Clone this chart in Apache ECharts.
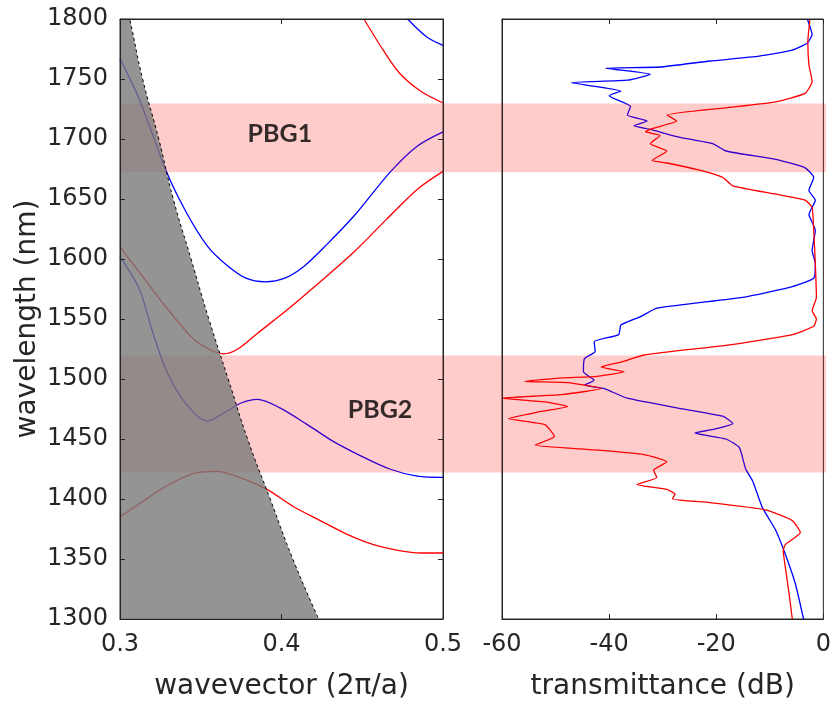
<!DOCTYPE html>
<html>
<head>
<meta charset="utf-8">
<script src="https://cdn.jsdelivr.net/npm/echarts@6/dist/echarts.min.js"></script>
<style>
  html, body { margin: 0; padding: 0; background: #fff; }
  #chart { width: 834px; height: 706px; }
</style>
</head>
<body>
<div id="chart"></div>
<script>
// Left panel: band diagram, [wavevector (2pi/a), wavelength (nm)]
const lightLine = [[0.300, 1833], [0.306, 1800], [0.314, 1750], [0.324, 1700], [0.333, 1650], [0.344, 1600],
    [0.355, 1550], [0.367, 1500], [0.379, 1450], [0.393, 1400], [0.407, 1350], [0.423, 1300]];
const blueBand1 = [[0.300, 1767], [0.312, 1733], [0.329, 1672], [0.341, 1639], [0.354, 1611], [0.366, 1595],
    [0.378, 1584], [0.390, 1581], [0.402, 1584], [0.414, 1594], [0.428, 1612], [0.445, 1636], [0.467, 1672],
    [0.484, 1694], [0.500, 1706]];
const redTop = [[0.451, 1800], [0.463, 1774], [0.473, 1755], [0.486, 1740], [0.500, 1730]];
const blueTop = [[0.478, 1800], [0.490, 1785], [0.500, 1778]];
const redBand2 = [[0.300, 1610], [0.312, 1589], [0.329, 1559], [0.345, 1534], [0.355, 1525], [0.364, 1521],
    [0.373, 1525], [0.385, 1538], [0.403, 1557], [0.424, 1581], [0.445, 1606], [0.465, 1633], [0.484, 1658], [0.500, 1673]];
const blueBand2 = [[0.300, 1602], [0.312, 1575], [0.320, 1540], [0.329, 1506], [0.341, 1479], [0.354, 1465],
    [0.366, 1473], [0.375, 1480], [0.385, 1483], [0.399, 1476], [0.416, 1462], [0.432, 1448], [0.449, 1436],
    [0.467, 1425], [0.484, 1419], [0.500, 1418]];
const redBand3 = [[0.300, 1385], [0.312, 1396], [0.329, 1411], [0.345, 1421], [0.360, 1423], [0.374, 1418],
    [0.391, 1408], [0.407, 1394], [0.424, 1382], [0.440, 1371], [0.457, 1362], [0.473, 1357], [0.486, 1355], [0.500, 1355]];

// Right panel: transmittance, [dB, wavelength (nm)]
const blueTrans = [[-3.0, 1800], [-2.1, 1787], [-3.0, 1780], [-5.8, 1774], [-12.0, 1769], [-21.2, 1765], [-30.5, 1760],
    [-40.6, 1759], [-32.3, 1754], [-36.6, 1749], [-47.1, 1747], [-37.8, 1740], [-40.0, 1736], [-36.0, 1727],
    [-36.6, 1720], [-32.9, 1715], [-35.4, 1711], [-32.3, 1708], [-27.4, 1702], [-20.6, 1696], [-18.2, 1690],
    [-8.9, 1683], [-3.4, 1676], [-1.8, 1668], [-2.7, 1657], [-1.5, 1649], [-2.7, 1637], [-1.5, 1624], [-2.1, 1607],
    [-1.5, 1596], [-1.8, 1584], [-5.8, 1577], [-15.1, 1568], [-24.3, 1563], [-31.1, 1559], [-34.1, 1552],
    [-37.8, 1545], [-38.2, 1537], [-42.8, 1531], [-42.6, 1523], [-44.6, 1517], [-44.8, 1506], [-42.8, 1499],
    [-44.6, 1495], [-40.9, 1492], [-36.6, 1484], [-27.4, 1476], [-18.8, 1469], [-16.9, 1463], [-20.6, 1458],
    [-24.0, 1455], [-18.2, 1450], [-15.7, 1443], [-14.5, 1425], [-13.2, 1415], [-11.4, 1393], [-8.9, 1374],
    [-7.1, 1354], [-5.2, 1329], [-3.7, 1300]];
const redTrans = [[-2.5, 1800], [-2.9, 1781], [-2.7, 1762], [-2.1, 1748], [-3.4, 1738], [-8.9, 1731], [-18.2, 1726],
    [-29.2, 1720], [-27.4, 1715], [-31.7, 1709], [-33.2, 1706], [-30.5, 1703], [-32.3, 1696], [-29.2, 1690],
    [-32.0, 1682], [-29.2, 1680], [-23.1, 1674], [-18.8, 1668], [-16.9, 1661], [-8.9, 1654], [-3.4, 1649],
    [-2.1, 1643], [-1.8, 1624], [-1.5, 1596], [-1.3, 1568], [-2.1, 1557], [-1.3, 1550], [-1.8, 1544], [-5.8, 1537],
    [-18.2, 1528], [-33.5, 1520], [-37.8, 1514], [-41.5, 1510], [-37.2, 1506], [-42.8, 1502], [-48.9, 1501],
    [-55.7, 1498], [-47.7, 1497], [-41.5, 1492], [-48.9, 1487], [-60.0, 1484], [-52.0, 1481], [-47.7, 1477],
    [-53.8, 1472], [-58.8, 1467], [-52.0, 1462], [-50.2, 1452], [-53.8, 1445], [-42.8, 1441], [-33.5, 1437],
    [-29.2, 1431], [-31.7, 1424], [-31.1, 1418], [-34.8, 1412], [-29.2, 1408], [-27.7, 1404], [-28.2, 1400],
    [-21.2, 1397], [-10.8, 1391], [-5.8, 1382], [-4.3, 1372], [-7.1, 1362], [-7.5, 1357], [-7.1, 1343],
    [-6.4, 1321], [-5.8, 1300]];

// Photonic band gaps [from, to] in nm, and their labels placed in band-diagram coords
const bandGaps = [[1673, 1730], [1424, 1521]];
const gapLabels = [['PBG1', 0.399, 1704], ['PBG2', 0.461, 1474]];

const xTicksLeft = [0.3, 0.5, 0.1];   // min, max, interval
const xTicksRight = [-60, 0, 20];
const yTicks = [1300, 1800, 50];

const axisColor = '#262626';
const font = 'DejaVu Sans';

function frameAxis(extra) {
    return Object.assign({
        type: 'value',
        z: 30,
        splitLine: { show: false },
        axisLine: { show: true, onZero: false, lineStyle: { color: axisColor, width: 1 } },
        axisTick: { show: true, inside: true, length: 5, lineStyle: { color: axisColor } },
        axisLabel: { show: false }
    }, extra);
}

const labelStyle = { show: true, color: axisColor, fontFamily: font, fontSize: 24, formatter: v => String(v) };
const nameStyle = { color: axisColor, fontFamily: font, fontSize: 28 };

const chart = echarts.init(document.getElementById('chart'));

function bandLine(data, color) {
    return {
        type: 'line', xAxisIndex: 0, yAxisIndex: 0, data: data, smooth: 0.3,
        symbol: 'none', z: 2, lineStyle: { color: color, width: 1.3 }
    };
}
function transLine(data, color) {
    return {
        type: 'line', xAxisIndex: 2, yAxisIndex: 2, data: data, smooth: 0.15,
        symbol: 'none', z: 2, lineStyle: { color: color, width: 1.3 }
    };
}

var option = {
    animation: false,
    grid: [
        { left: 120, right: 391, top: 19, bottom: 84, show: true, borderColor: axisColor, borderWidth: 1 },
        { left: 502, right: 8, top: 19, bottom: 84, show: true, borderColor: axisColor, borderWidth: 1 },
        { left: 120, right: 8, top: 19, bottom: 84, show: false }
    ],
    xAxis: [
        frameAxis({
            gridIndex: 0, position: 'bottom', min: xTicksLeft[0], max: xTicksLeft[1], interval: xTicksLeft[2],
            axisLabel: Object.assign({ margin: 14 }, labelStyle),
            name: 'wavevector (2π/a)', nameLocation: 'middle', nameGap: 54, nameTextStyle: nameStyle
        }),
        frameAxis({ gridIndex: 0, position: 'top', min: xTicksLeft[0], max: xTicksLeft[1], interval: xTicksLeft[2] }),
        frameAxis({
            gridIndex: 1, position: 'bottom', min: xTicksRight[0], max: xTicksRight[1], interval: xTicksRight[2],
            axisLabel: Object.assign({ margin: 14 }, labelStyle),
            name: 'transmittance (dB)', nameLocation: 'middle', nameGap: 54, nameTextStyle: nameStyle
        }),
        frameAxis({ gridIndex: 1, position: 'top', min: xTicksRight[0], max: xTicksRight[1], interval: xTicksRight[2] }),
        { type: 'value', gridIndex: 2, min: 0, max: 1, show: false }
    ],
    yAxis: [
        frameAxis({
            gridIndex: 0, position: 'left', min: yTicks[0], max: yTicks[1], interval: yTicks[2],
            axisLabel: Object.assign({ margin: 12 }, labelStyle),
            name: 'wavelength (nm)', nameLocation: 'middle', nameGap: 78, nameTextStyle: nameStyle
        }),
        frameAxis({ gridIndex: 0, position: 'right', min: yTicks[0], max: yTicks[1], interval: yTicks[2] }),
        frameAxis({ gridIndex: 1, position: 'left', min: yTicks[0], max: yTicks[1], axisTick: { show: false } }),
        { type: 'value', gridIndex: 2, min: yTicks[0], max: yTicks[1], show: false }
    ],
    series: [
        bandLine(blueBand1, '#0000ff'),
        bandLine(blueTop, '#0000ff'),
        bandLine(blueBand2, '#0000ff'),
        bandLine(redTop, '#ff0000'),
        bandLine(redBand2, '#ff0000'),
        bandLine(redBand3, '#ff0000'),
        transLine(blueTrans, '#0000ff'),
        transLine(redTrans, '#ff0000'),
        {
            // band-gap stripes across both panels
            type: 'line', xAxisIndex: 4, yAxisIndex: 3, data: [], z: 3,
            markArea: {
                z: 3, silent: true,
                itemStyle: { color: 'rgba(255,0,0,0.2)' },
                data: bandGaps.map(g => [{ yAxis: g[0] }, { yAxis: g[1] }])
            }
        },
        {
            // region left of the light line
            type: 'line', xAxisIndex: 0, yAxisIndex: 0, data: lightLine, smooth: true, symbol: 'none', z: 20,
            lineStyle: { color: '#000', width: 1, type: [3, 3] },
            areaStyle: { color: 'rgb(121,121,121)', opacity: 0.8, origin: 'start' }
        },
        {
            type: 'scatter', xAxisIndex: 0, yAxisIndex: 0, symbolSize: 0, z: 25,
            data: gapLabels.map(l => ({ name: l[0], value: [l[1], l[2]] })),
            label: {
                show: true, position: 'inside', formatter: '{b}',
                color: '#000', fontFamily: 'Lato', fontWeight: 'bold', fontSize: 25
            }
        }
    ]
};
option && chart.setOption(option);
</script>
</body>
</html>
